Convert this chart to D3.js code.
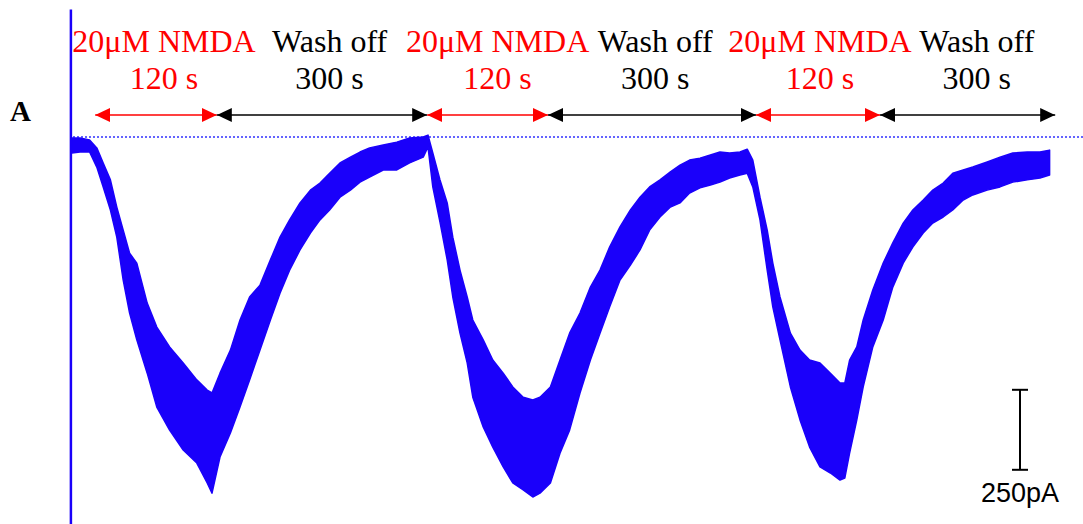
<!DOCTYPE html>
<html>
<head>
<meta charset="utf-8">
<script src="https://cdn.jsdelivr.net/npm/d3@7"></script>
<style>
    body { margin: 0; background: #fff; }
    #chart { width: 1083px; height: 524px; }
</style>
</head>
<body>
<div id="chart"></div>
<script>
//Colores fijos
const COLOR_TRAZA = '#1a00fa',
COLOR_NMDA = '#ff0000',
COLOR_WASH = '#000000';

///Datos: tiempo (s) y envolvente superior / inferior de la corriente (pA)
const tiempos = [0,10,22,31,39,48,56,64,72,81,
    94,106,122,139,156,169,175,185,198,210,
    222,235,248,260,272,285,298,310,322,335,
    348,360,372,389,406,422,439,445,451,460,
    469,476,485,494,501,514,526,539,551,564,
    576,585,598,610,622,635,648,660,672,685,
    698,710,722,735,748,760,772,785,798,810,
    822,835,844,851,860,869,876,885,898,910,
    922,935,948,960,966,972,981,989,1001,1014,
    1026,1039,1051,1064,1076,1089,1101,1114,1126,1144,
    1160,1176,1194,1210,1222];

const superior = [-3,-3,-9,-34,-81,-134,-219,-291,-363,-394,
    -519,-594,-656,-706,-759,-791,-800,-738,-666,-572,
    -500,-463,-384,-313,-259,-206,-166,-144,-113,-81,
    -63,-47,-34,-25,-16,-3,0,6,-50,-134,
    -206,-313,-416,-500,-572,-634,-697,-738,-781,-813,
    -822,-813,-781,-697,-613,-550,-469,-416,-344,-281,
    -228,-188,-156,-134,-109,-88,-72,-66,-56,-47,
    -50,-47,-38,-72,-188,-291,-394,-500,-613,-666,
    -697,-706,-738,-769,-769,-697,-656,-572,-478,-394,
    -331,-269,-228,-197,-166,-144,-113,-103,-94,-78,
    -63,-50,-47,-47,-41];

const inferior = [-50,-47,-47,-94,-156,-228,-313,-447,-550,-634,
    -738,-844,-916,-978,-1019,-1081,-1113,-1000,-925,-844,
    -759,-666,-572,-488,-416,-353,-300,-259,-228,-188,
    -166,-141,-125,-103,-103,-81,-63,-31,-156,-266,
    -384,-500,-613,-706,-813,-906,-969,-1031,-1081,-1103,
    -1125,-1113,-1081,-988,-916,-800,-697,-613,-531,-447,
    -400,-353,-291,-250,-219,-206,-175,-159,-150,-141,
    -128,-119,-113,-156,-259,-416,-531,-634,-781,-884,
    -969,-1031,-1050,-1072,-1066,-988,-884,-781,-656,-572,
    -469,-394,-344,-300,-269,-250,-228,-197,-181,-166,
    -156,-141,-134,-128,-119];

///Periodos (s) y etiquetas
const limites = [29, 181, 444, 595, 855, 1010, 1229];
const tipos = ['nmda', 'wash', 'nmda', 'wash', 'nmda', 'wash'];
const etiquetas1 = ['20μM NMDA', 'Wash off', '20μM NMDA', 'Wash off', '20μM NMDA', 'Wash off'];
const etiquetas2 = ['120 s', '300 s', '120 s', '300 s', '120 s', '300 s'];
const centros = [115, 322, 532, 729, 935, 1131];

///Barra de escala (pA)
const escalaValor = 250, escalaInicio = -790, escalaTiempo = 1185;

//////// VISUALIZACIÓN
let width = 1083, height = 524;

let svg = d3.select('#chart')
    .append('svg')
        .attr('width', width)
        .attr('height', height)
        .style('background', '#fff');

let x = d3.scaleLinear()
    .domain([0, 1250])
    .range([72, 1072]);

let y = d3.scaleLinear()
    .domain([400, -1210])
    .range([9, 524.2]);

let data = tiempos.map(function(t, i) { return {t: t, sup: superior[i], inf: inferior[i]}; });

//Eje vertical (sin marcas)
svg.append('g')
    .attr('class', 'yaxis')
    .attr('transform', 'translate(' + x(-2) + ',0)')
    .call(d3.axisLeft(y).tickValues([]).tickSizeOuter(0))
    .call(function(g) {
        g.select('.domain').attr('stroke', COLOR_TRAZA).attr('stroke-width', 2.5);
    });

//Línea base punteada
svg.append('line')
    .attr('x1', x(0) + 1)
    .attr('x2', width)
    .attr('y1', y(0))
    .attr('y2', y(0))
    .attr('stroke', '#3030ff')
    .attr('stroke-width', 1.5)
    .attr('stroke-dasharray', '2,2');

//Traza
let area = d3.area()
    .x(function(d) { return x(d.t); })
    .y0(function(d) { return y(d.inf); })
    .y1(function(d) { return y(d.sup); })
    .curve(d3.curveLinear);

svg.append('path')
    .datum(data)
    .attr('fill', COLOR_TRAZA)
    .attr('stroke', COLOR_TRAZA)
    .attr('stroke-width', 1.5)
    .attr('stroke-linejoin', 'round')
    .attr('d', area);

//Flechas
let defs = svg.append('defs');
['nmda', 'wash'].forEach(function(tipo) {
    defs.append('marker')
        .attr('id', 'punta_' + tipo)
        .attr('viewBox', '0 0 15 14')
        .attr('refX', 15)
        .attr('refY', 7)
        .attr('markerWidth', 15)
        .attr('markerHeight', 14)
        .attr('markerUnits', 'userSpaceOnUse')
        .attr('orient', 'auto-start-reverse')
        .append('path')
        .attr('d', 'M0,0 L15,7 L0,14 Z')
        .attr('fill', tipo == 'nmda' ? COLOR_NMDA : COLOR_WASH);
});

let periodos = tipos.map(function(tipo, i) {
    return {tipo: tipo, ini: limites[i], fin: limites[i + 1], l1: etiquetas1[i], l2: etiquetas2[i], c: centros[i]};
});

svg.append('g')
    .selectAll('line')
    .data(periodos)
    .enter()
    .append('line')
    .attr('x1', function(d) { return x(d.ini); })
    .attr('x2', function(d) { return x(d.fin); })
    .attr('y1', 115)
    .attr('y2', 115)
    .attr('stroke', function(d) { return d.tipo == 'nmda' ? COLOR_NMDA : COLOR_WASH; })
    .attr('stroke-width', 1.5)
    .attr('marker-start', function(d) { return 'url(#punta_' + d.tipo + ')'; })
    .attr('marker-end', function(d) { return 'url(#punta_' + d.tipo + ')'; });

//Etiquetas
let textos = svg.append('g')
    .attr('font-family', '"Liberation Serif", "Times New Roman", serif')
    .attr('font-size', 32)
    .attr('text-anchor', 'middle');

textos.selectAll('.l1')
    .data(periodos)
    .enter()
    .append('text')
    .attr('class', 'l1')
    .attr('x', function(d) { return x(d.c); })
    .attr('y', 52)
    .attr('fill', function(d) { return d.tipo == 'nmda' ? COLOR_NMDA : COLOR_WASH; })
    .text(function(d) { return d.l1; });

textos.selectAll('.l2')
    .data(periodos)
    .enter()
    .append('text')
    .attr('class', 'l2')
    .attr('x', function(d) { return x(d.c); })
    .attr('y', 89)
    .attr('fill', function(d) { return d.tipo == 'nmda' ? COLOR_NMDA : COLOR_WASH; })
    .text(function(d) { return d.l2; });

//Letra del panel
svg.append('text')
    .attr('x', 10)
    .attr('y', 121)
    .attr('font-family', '"Liberation Serif", "Times New Roman", serif')
    .attr('font-weight', 'bold')
    .attr('font-size', 29)
    .text('A');

//Barra de escala
let bx = x(escalaTiempo);
let escala = svg.append('g')
    .attr('stroke', '#000')
    .attr('stroke-width', 2);

escala.append('line')
    .attr('x1', bx).attr('x2', bx)
    .attr('y1', y(escalaInicio)).attr('y2', y(escalaInicio - escalaValor));
escala.append('line')
    .attr('x1', bx - 8).attr('x2', bx + 8)
    .attr('y1', y(escalaInicio)).attr('y2', y(escalaInicio));
escala.append('line')
    .attr('x1', bx - 8).attr('x2', bx + 8)
    .attr('y1', y(escalaInicio - escalaValor)).attr('y2', y(escalaInicio - escalaValor));

svg.append('text')
    .attr('x', bx)
    .attr('y', 502)
    .attr('text-anchor', 'middle')
    .attr('font-family', '"Liberation Sans", Arial, sans-serif')
    .attr('font-size', 27)
    .attr('fill', '#000')
    .text(escalaValor + 'pA');
</script>
</body>
</html>
